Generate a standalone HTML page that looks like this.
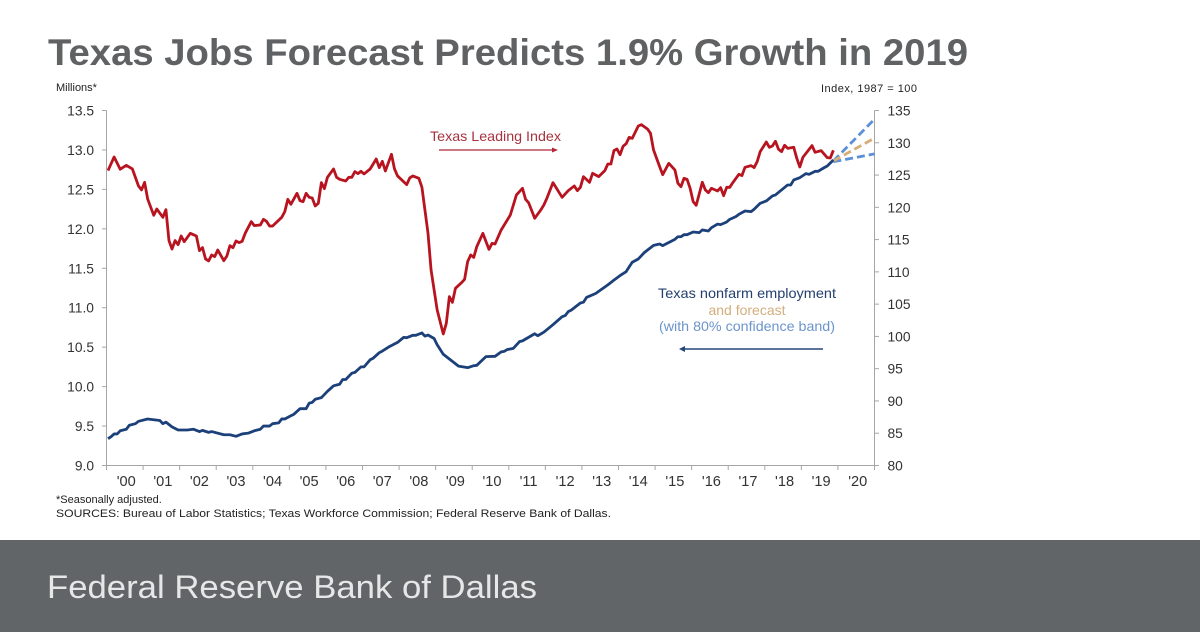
<!DOCTYPE html>
<html lang="en">
<head>
<meta charset="utf-8">
<title>Texas Jobs Forecast</title>
<style>
html,body{margin:0;padding:0;background:#fff;}
body{width:1200px;height:632px;overflow:hidden;}
svg{display:block;font-family:"Liberation Sans",sans-serif;}
</style>
</head>
<body>
<svg id="chart" xmlns="http://www.w3.org/2000/svg" width="1200" height="632" viewBox="0 0 1200 632">
  <rect x="0" y="0" width="1200" height="632" fill="#ffffff"/>
  <text x="48" y="65" font-size="37" font-weight="700" fill="#5f6163" textLength="920" lengthAdjust="spacingAndGlyphs">Texas Jobs Forecast Predicts 1.9% Growth in 2019</text>
  <text x="56" y="91" font-size="11" fill="#222222">Millions*</text>
  <text x="821" y="92" font-size="11" fill="#222222" textLength="96" lengthAdjust="spacing">Index, 1987 = 100</text>
  <g id="axes"></g>
  <g id="series"></g>
  <text x="430" y="141" font-size="14" fill="#a8323f" textLength="131" lengthAdjust="spacingAndGlyphs">Texas Leading Index</text>
  <g>
    <line x1="439" y1="150" x2="553" y2="150" stroke="#b5263a" stroke-width="1.3"/>
    <polygon points="558,150 552,147.5 552,152.5" fill="#b5263a"/>
  </g>
  <text x="747" y="298" font-size="14" fill="#23406f" text-anchor="middle" textLength="178" lengthAdjust="spacingAndGlyphs">Texas nonfarm employment</text>
  <text x="747" y="315" font-size="14" fill="#d2ae7c" text-anchor="middle">and forecast</text>
  <text x="747" y="331" font-size="14" fill="#6b94cc" text-anchor="middle" textLength="176" lengthAdjust="spacingAndGlyphs">(with 80% confidence band)</text>
  <g>
    <line x1="823" y1="349" x2="684" y2="349" stroke="#23477c" stroke-width="1.5"/>
    <polygon points="679,349 685,346 685,352" fill="#23477c"/>
  </g>
  <text x="56" y="503" font-size="11" fill="#222222">*Seasonally adjusted.</text>
  <text x="56" y="517" font-size="11" fill="#222222" textLength="555" lengthAdjust="spacingAndGlyphs">SOURCES: Bureau of Labor Statistics; Texas Workforce Commission; Federal Reserve Bank of Dallas.</text>
  <rect x="0" y="540" width="1200" height="92" fill="#626567"/>
  <text x="47" y="598" font-size="32" fill="#e6e7e7" textLength="490" lengthAdjust="spacingAndGlyphs">Federal Reserve Bank of Dallas</text>
</svg>
<script>
const leftTicks = ['9.0','9.5','10.0','10.5','11.0','11.5','12.0','12.5','13.0','13.5'];
const rightTicks = ['80','85','90','95','100','105','110','115','120','125','130','135'];
const yearLabels = ["'00","'01","'02","'03","'04","'05","'06","'07","'08","'09","'10","'11","'12","'13","'14","'15","'16","'17","'18","'19","'20"];

// months since January 2000; Texas Leading Index (right axis)
const leadingMonths = [0,2,4,6,8,10,11,12,13,15,16,18,19,20,21,22,23,24,25,27,29,30,31,32,33,34,35,36,38,39,40,41,42,43,44,45,47,48,50,51,52,53,54,57,58,59,60,62,63,64,65,66,67,68,69,70,71,72,74,75,76,78,79,80,81,82,83,84,86,88,89,90,91,93,94,95,98,99,100,102,103,105,106,108,110,111,112,113,114,116,117,118,119,120,121,123,125,126,127,129,132,134,136,137,138,140,142,143,144,146,149,151,153,154,155,156,158,159,161,163,164,165,166,167,168,169,170,171,172,174,175,177,178,179,181,182,184,186,187,188,189,190,191,192,193,195,196,197,198,200,201,202,203,204,205,207,208,209,211,212,213,214,216,217,218,219,220,221,222,223,225,226,227,228,231,232,234,236,237,238];
const leadingValues = [125.7,127.8,125.9,126.5,125.94,123.3,122.7,123.87,121.3,118.76,119.74,118.45,119.64,114.84,113.54,114.84,114.22,115.56,114.68,115.97,115.56,113.29,113.75,112.0,111.69,112.62,112.36,113.39,111.74,112.46,114.06,113.75,114.79,114.53,114.73,115.97,117.78,117.16,117.27,118.14,117.83,117.1,117.1,118.45,119.33,121.24,120.47,122.17,121.03,120.88,122.17,121.55,121.45,120.21,120.62,123.82,122.89,124.65,125.94,124.65,124.34,124.08,124.65,124.65,125.53,125.22,125.58,125.17,125.94,127.49,126.15,127.13,125.63,128.21,125.94,124.86,123.51,124.55,124.86,124.49,123.1,115.97,110.3,104.1,100.38,102.03,106.16,105.28,107.45,108.33,108.85,111.58,112.62,112.25,113.91,115.97,113.49,114.42,114.32,116.49,118.81,121.91,122.94,121.24,120.72,118.3,119.59,120.36,121.4,123.82,121.55,122.58,123.31,122.58,123.1,124.75,123.87,125.27,124.75,125.68,126.71,126.71,128.78,129.04,128.15,129.45,129.85,130.85,130.69,132.6,132.81,132.14,131.47,128.88,126.3,125.06,126.82,125.79,123.72,123.2,124.5,124.34,122.95,120.88,120.31,123.88,122.69,122.27,122.95,122.53,123.05,121.81,123.1,123.1,123.82,125.11,124.91,126.2,126.46,126.15,127.08,128.63,130.12,129.3,129.5,130.23,128.99,128.63,129.61,129.14,129.3,127.59,126.25,127.75,129.56,128.52,128.78,127.7,127.65,128.83];

// months since January 2000; Texas nonfarm employment, millions (left axis)
const employmentMonths = [0,1,2,3,4,6,7,9,10,13,15,17,18,19,21,23,26,28,30,31,33,34,38,40,42,44,46,48,50,51,53,54,56,57,58,60,61,63,65,66,67,68,70,72,74,75,76,77,78,80,81,83,84,86,87,89,90,92,95,97,98,100,101,103,104,105,107,108,110,112,115,118,120,121,124,127,129,130,131,133,135,136,140,141,143,146,149,150,151,152,155,156,157,160,164,166,168,170,172,174,176,179,181,182,186,187,188,189,190,192,194,195,197,198,200,201,203,204,206,207,209,211,212,214,216,218,219,223,224,225,227,229,230,232,233,235,236,238];
const employmentValues = [9.34,9.365,9.40,9.40,9.44,9.46,9.51,9.53,9.56,9.59,9.58,9.57,9.53,9.55,9.49,9.45,9.45,9.46,9.43,9.445,9.42,9.43,9.39,9.39,9.37,9.40,9.41,9.44,9.46,9.50,9.50,9.53,9.54,9.59,9.59,9.63,9.65,9.72,9.72,9.79,9.80,9.84,9.86,9.94,10.01,10.02,10.03,10.09,10.09,10.17,10.18,10.25,10.25,10.34,10.36,10.43,10.45,10.50,10.56,10.624,10.62,10.65,10.65,10.68,10.64,10.654,10.61,10.53,10.41,10.35,10.26,10.24,10.265,10.27,10.38,10.384,10.44,10.447,10.47,10.485,10.57,10.58,10.67,10.645,10.69,10.785,10.886,10.90,10.95,10.97,11.06,11.07,11.13,11.18,11.29,11.35,11.407,11.457,11.576,11.618,11.70,11.79,11.808,11.787,11.867,11.90,11.90,11.926,11.926,11.96,11.952,11.986,11.973,12.015,12.06,12.053,12.087,12.12,12.155,12.184,12.226,12.218,12.248,12.324,12.353,12.417,12.43,12.556,12.556,12.62,12.649,12.70,12.691,12.729,12.729,12.776,12.797,12.873];

// forecast months and values, millions (left axis)
const forecastMonths = [238,251.5];
const forecastMid = [12.86,13.15];
const forecastHigh = [12.86,13.39];
const forecastLow = [12.85,12.95];

const SVG_NS = 'http://www.w3.org/2000/svg';
const PLOT_LEFT = 106.5, PLOT_RIGHT = 874.5, PLOT_TOP = 110.5, PLOT_BOTTOM = 465.5;
const axisColor = '#a6a6a6';
const labelColor = '#333333';

function xOfMonth(m){ return PLOT_LEFT + (m + 0.5) * (PLOT_RIGHT - PLOT_LEFT) / (yearLabels.length * 12); }
function yLeft(v){ return PLOT_BOTTOM - (v - 9) * (PLOT_BOTTOM - PLOT_TOP) / 4.5; }
function yRight(v){ return PLOT_BOTTOM - (v - 80) * (PLOT_BOTTOM - PLOT_TOP) / 55; }

function make(tag, attrs, parent, text){
  const el = document.createElementNS(SVG_NS, tag);
  for (const k in attrs) el.setAttribute(k, attrs[k]);
  if (text !== undefined) el.textContent = text;
  parent.appendChild(el);
  return el;
}

const axes = document.getElementById('axes');
const seriesGroup = document.getElementById('series');

const leftLine = make('line', {x1:PLOT_LEFT,y1:PLOT_TOP,x2:PLOT_LEFT,y2:PLOT_BOTTOM,stroke:axisColor,'stroke-width':1}, axes);


const rightLine = make('line', {x1:PLOT_RIGHT,y1:PLOT_TOP,x2:PLOT_RIGHT,y2:PLOT_BOTTOM,stroke:axisColor,'stroke-width':1}, axes);


const bottomLine = make('line', {x1:PLOT_LEFT,y1:PLOT_BOTTOM,x2:PLOT_RIGHT,y2:PLOT_BOTTOM,stroke:axisColor,'stroke-width':1}, axes);



leftTicks.forEach(function(label){
  const y = yLeft(parseFloat(label));
  const tick = make('line', {x1:102,y1:y,x2:PLOT_LEFT,y2:y,stroke:axisColor,'stroke-width':1}, axes);
  
  
  const t = make('text', {x:94,y:y+5,'font-size':13.8,fill:labelColor,'text-anchor':'end'}, axes, label);
  
  
});

rightTicks.forEach(function(label){
  const y = yRight(parseFloat(label));
  const tick = make('line', {x1:PLOT_RIGHT,y1:y,x2:879,y2:y,stroke:axisColor,'stroke-width':1}, axes);
  
  
  const t = make('text', {x:887.5,y:y+5,'font-size':13.8,fill:labelColor}, axes, label);
  
  
});

yearLabels.forEach(function(label, i){
  const x0 = xOfMonth(i * 12 - 0.5);
  const tick = make('line', {x1:x0,y1:PLOT_BOTTOM,x2:x0,y2:470,stroke:axisColor,'stroke-width':1}, axes);
  
  
  const t = make('text', {x:xOfMonth(i * 12 + 5.5) + 1.5,y:486,'font-size':14.6,fill:labelColor,'text-anchor':'middle'}, axes, label);
  
  
});
const lastTick = make('line', {x1:PLOT_RIGHT,y1:PLOT_BOTTOM,x2:PLOT_RIGHT,y2:470,stroke:axisColor,'stroke-width':1}, axes);



function pathPoints(months, values, yFn){
  return months.map(function(m, i){ return xOfMonth(m).toFixed(2) + ',' + yFn(values[i]).toFixed(2); }).join(' ');
}

const leadingLine = make('polyline', {points:pathPoints(leadingMonths, leadingValues, yRight),fill:'none',stroke:'#b8141f','stroke-width':2.8,'stroke-linejoin':'round'}, seriesGroup);



const highLine = make('polyline', {points:pathPoints(forecastMonths, forecastHigh, yLeft),fill:'none',stroke:'#5b90d8','stroke-width':2.8,'stroke-dasharray':'8 4'}, seriesGroup);


const lowLine = make('polyline', {points:pathPoints(forecastMonths, forecastLow, yLeft),fill:'none',stroke:'#5b90d8','stroke-width':2.8,'stroke-dasharray':'8 4'}, seriesGroup);


const midLine = make('polyline', {points:pathPoints(forecastMonths, forecastMid, yLeft),fill:'none',stroke:'#d6ae78','stroke-width':2.8,'stroke-dasharray':'8 4'}, seriesGroup);



const employmentLine = make('polyline', {points:pathPoints(employmentMonths, employmentValues, yLeft),fill:'none',stroke:'#1c4079','stroke-width':2.8,'stroke-linejoin':'round'}, seriesGroup);


</script>
</body>
</html>
